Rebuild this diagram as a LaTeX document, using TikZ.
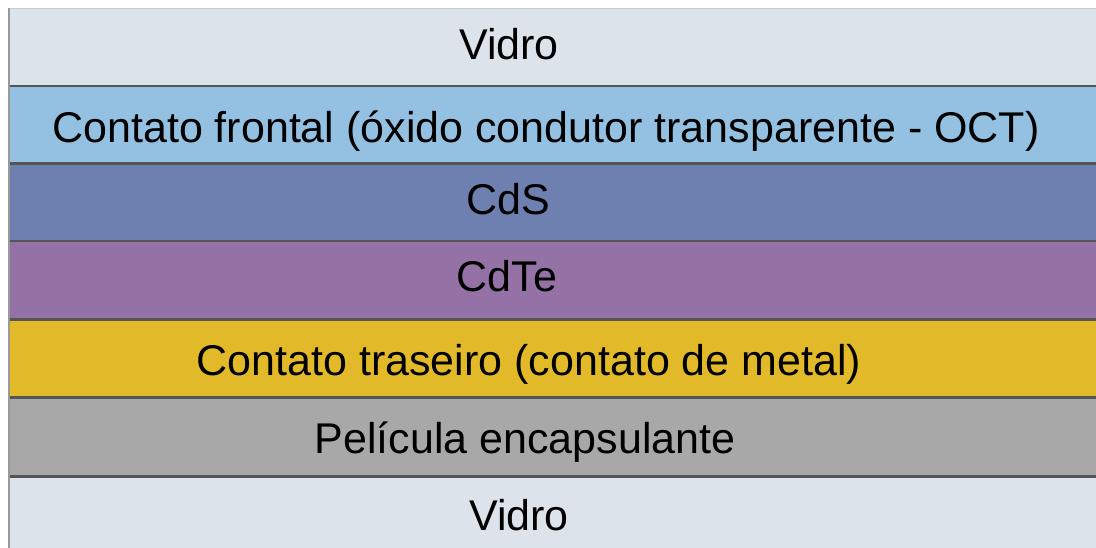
\documentclass[tikz,border=0pt]{standalone}
\usepackage{fontspec}
\setmainfont{Liberation Sans}
\definecolor{vidro}{HTML}{DCE3EB}
\definecolor{frontal}{HTML}{94C0E2}
\definecolor{cds}{HTML}{6E80B0}
\definecolor{cdte}{HTML}{9572A6}
\definecolor{traseiro}{HTML}{E2B928}
\definecolor{pelicula}{HTML}{A8A8A8}
\definecolor{sep}{HTML}{555555}
\tikzset{
  layertext/.style={anchor=base, inner sep=0pt, font=\fontsize{43}{50}\selectfont, text=black},
  sepline/.style={draw=sep, line width=2.6pt},
}
\begin{document}
\begin{tikzpicture}[x=1pt,y=-1pt]
\useasboundingbox (0,0) rectangle (1096,548);
\fill[white] (0,0) rectangle (1096,548);
% layers
\fill[vidro]    (8,8)     rectangle (1096,86);
\fill[frontal]  (8,86)    rectangle (1096,163.5);
\fill[cds]      (8,163.5) rectangle (1096,241);
\fill[cdte]     (8,241)   rectangle (1096,319.5);
\fill[traseiro] (8,319.5) rectangle (1096,397.5);
\fill[pelicula] (8,397.5) rectangle (1096,476.5);
\fill[vidro]    (8,476.5) rectangle (1096,548);
% separators
\draw[draw=gray!40, line width=0.8pt] (8,8.4) -- (1096,8.4);
\foreach \y in {86,163.5,241,319.5,397.5,476.5}
  \draw[sepline] (8,\y) -- (1096,\y);
\draw[draw=gray!80, line width=1.6pt] (8.8,8) -- (8.8,548);
% texts
\node[layertext] (v1) at (509,60)  {Vidro};
\node[layertext] (cf) at (546,143) {Contato frontal (óxido condutor transparente - OCT)};
\node[layertext] (cs) at (508,215) {CdS};
\node[layertext] (ct) at (507,292) {CdTe};
\node[layertext] (tr) at (529,375) {Contato traseiro (contato de metal)};
\node[layertext] (pe) at (525,453) {Película encapsulante};
\node[layertext] (v2) at (519,530) {Vidro};
\end{tikzpicture}
\end{document}
